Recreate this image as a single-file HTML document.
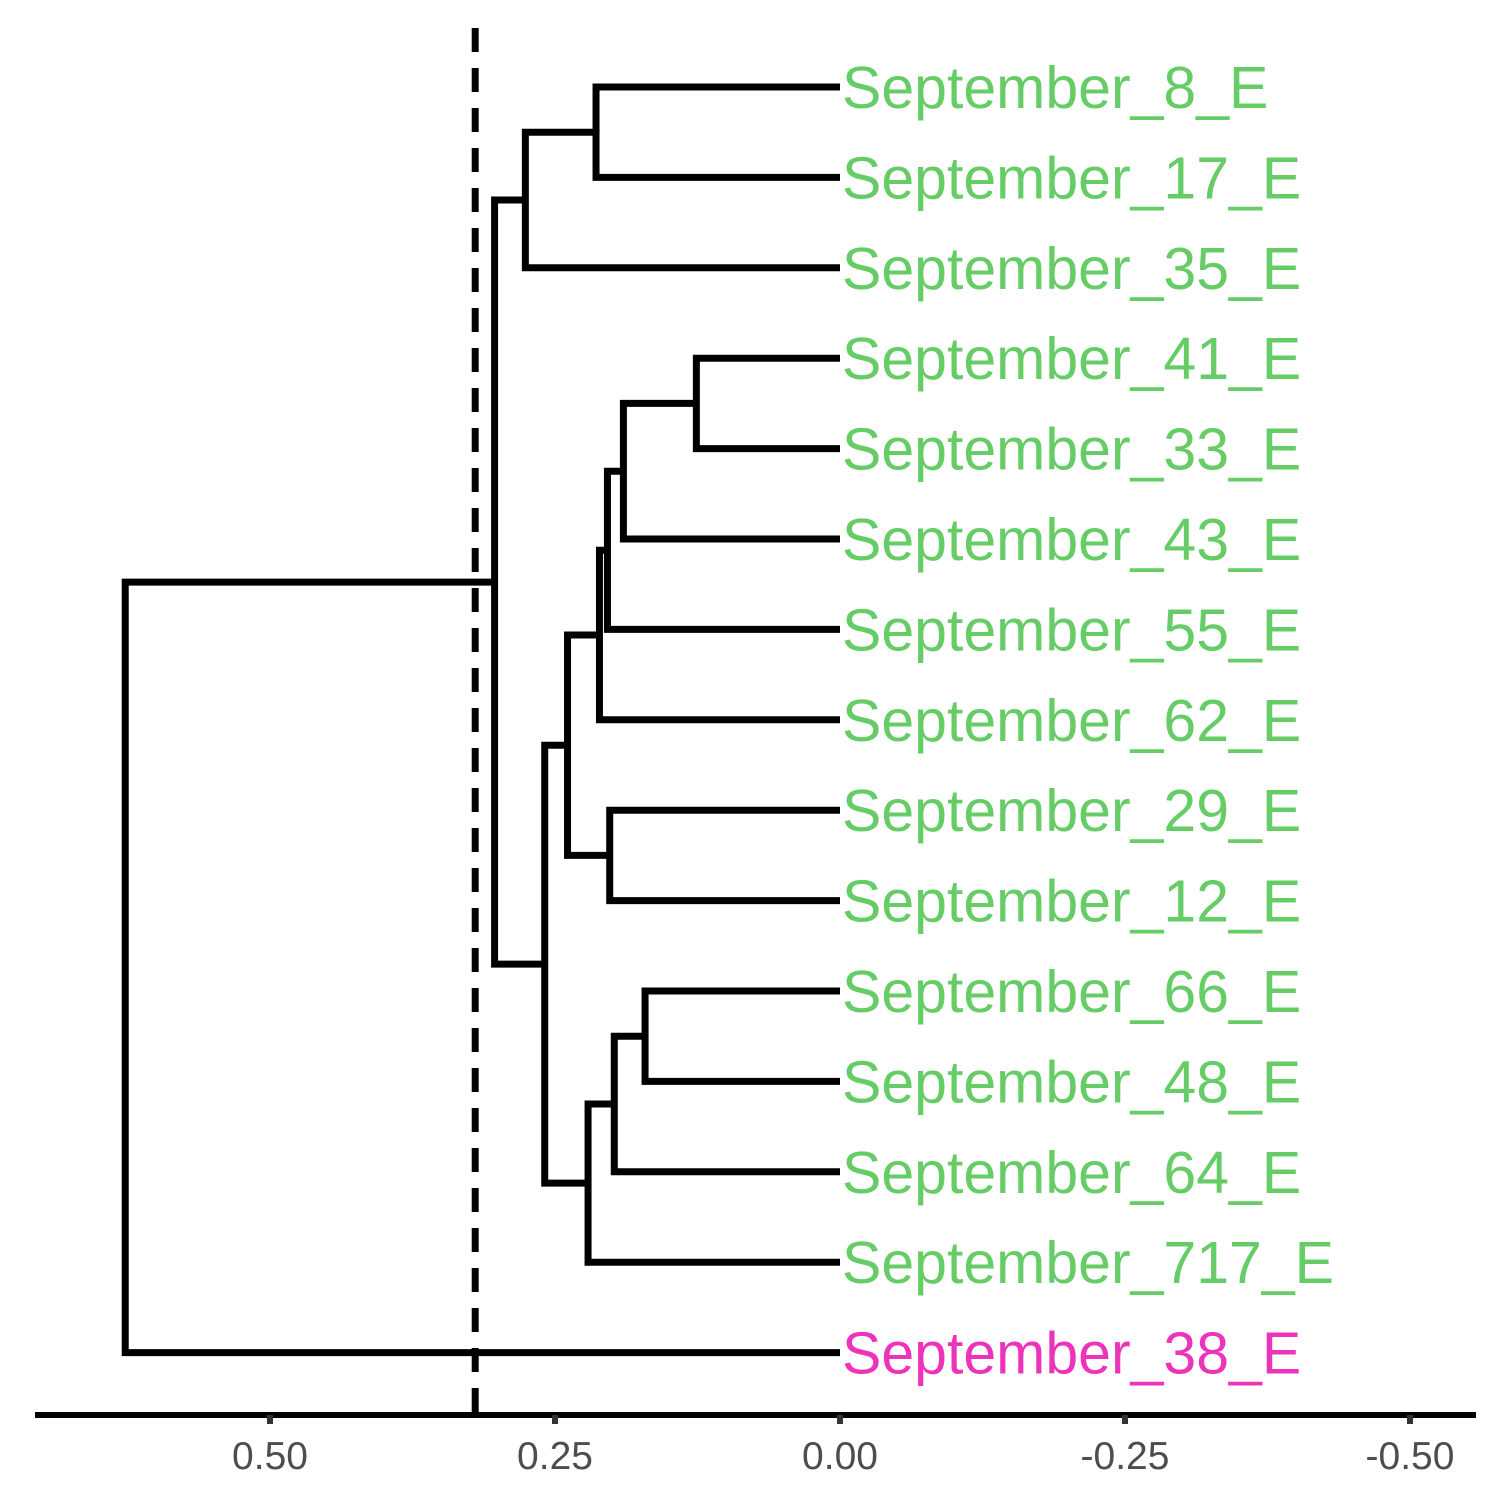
<!DOCTYPE html>
<html><head><meta charset="utf-8"><style>
html,body{margin:0;padding:0;background:#fff;}
svg{display:block;font-family:"Liberation Sans",sans-serif;}
</style></head><body>
<svg id="chart" width="1500" height="1500"></svg>
<script>
const leafNames = ["September_8_E","September_17_E","September_35_E","September_41_E","September_33_E","September_43_E","September_55_E","September_62_E","September_29_E","September_12_E","September_66_E","September_48_E","September_64_E","September_717_E","September_38_E"];
const leafColors = ["#66CC66","#66CC66","#66CC66","#66CC66","#66CC66","#66CC66","#66CC66","#66CC66","#66CC66","#66CC66","#66CC66","#66CC66","#66CC66","#66CC66","#EE33BB"];
const mergeLeft  = [-1, 1, -4, 3, 4, 5, -9, 6, -11, 9, 10, 8, 2, 13];
const mergeRight = [-2, -3, -5, -6, -7, -8, -10, 7, -12, -13, -14, 11, 12, -15];
const mergeHeight = [0.214, 0.276, 0.126, 0.190, 0.204, 0.211, 0.202, 0.239, 0.171, 0.198, 0.221, 0.259, 0.303, 0.627];
const tickValues = [0.5, 0.25, 0, -0.25, -0.5];
const tickLabels = ["0.50","0.25","0.00","-0.25","-0.50"];
const cutHeight = 0.32;

const NS="http://www.w3.org/2000/svg";
const svg=document.getElementById('chart');
const xs = h => 840 - h*1140;
const ys = i => 87 + i*90.4;
function mk(tag, attrs){const e=document.createElementNS(NS,tag);for(const k in attrs)e.setAttribute(k,attrs[k]);svg.appendChild(e);return e;}

function pos(node){
  if(node<0) return {x:xs(0), y:ys(-node-1)};
  return {x:xs(mergeHeight[node-1]), y:nodeY[node-1]};
}
const nodeY=[];
for(let m=0;m<mergeHeight.length;m++){
  const a=pos(mergeLeft[m]), b=pos(mergeRight[m]);
  nodeY[m]=(a.y+b.y)/2;
  const x=xs(mergeHeight[m]);
  const p=mk('path',{d:`M${a.x},${a.y}H${x}V${b.y}H${b.x}`,fill:'none',stroke:'#000','stroke-width':7,'stroke-linejoin':'miter'});
  
  
}
const cl=mk('line',{x1:xs(cutHeight),x2:xs(cutHeight),y1:28,y2:1415,stroke:'#000','stroke-width':7,'stroke-dasharray':'24,16'});


leafNames.forEach((n,i)=>{
  const t=mk('text',{x:842,y:ys(i)+21,'font-size':59,fill:leafColors[i]});
  t.textContent=n;
  
  
});
const ax=mk('line',{x1:35,x2:1476,y1:1415,y2:1415,stroke:'#000','stroke-width':6});


tickValues.forEach((v,i)=>{
  const tk=mk('line',{x1:xs(v),x2:xs(v),y1:1415,y2:1424,stroke:'#333','stroke-width':6});
  
  
  const t=mk('text',{x:xs(v),y:1469,'font-size':39,fill:'#4d4d4d','text-anchor':'middle'});
  t.textContent=tickLabels[i];
  
  
});
</script>
</body></html>
